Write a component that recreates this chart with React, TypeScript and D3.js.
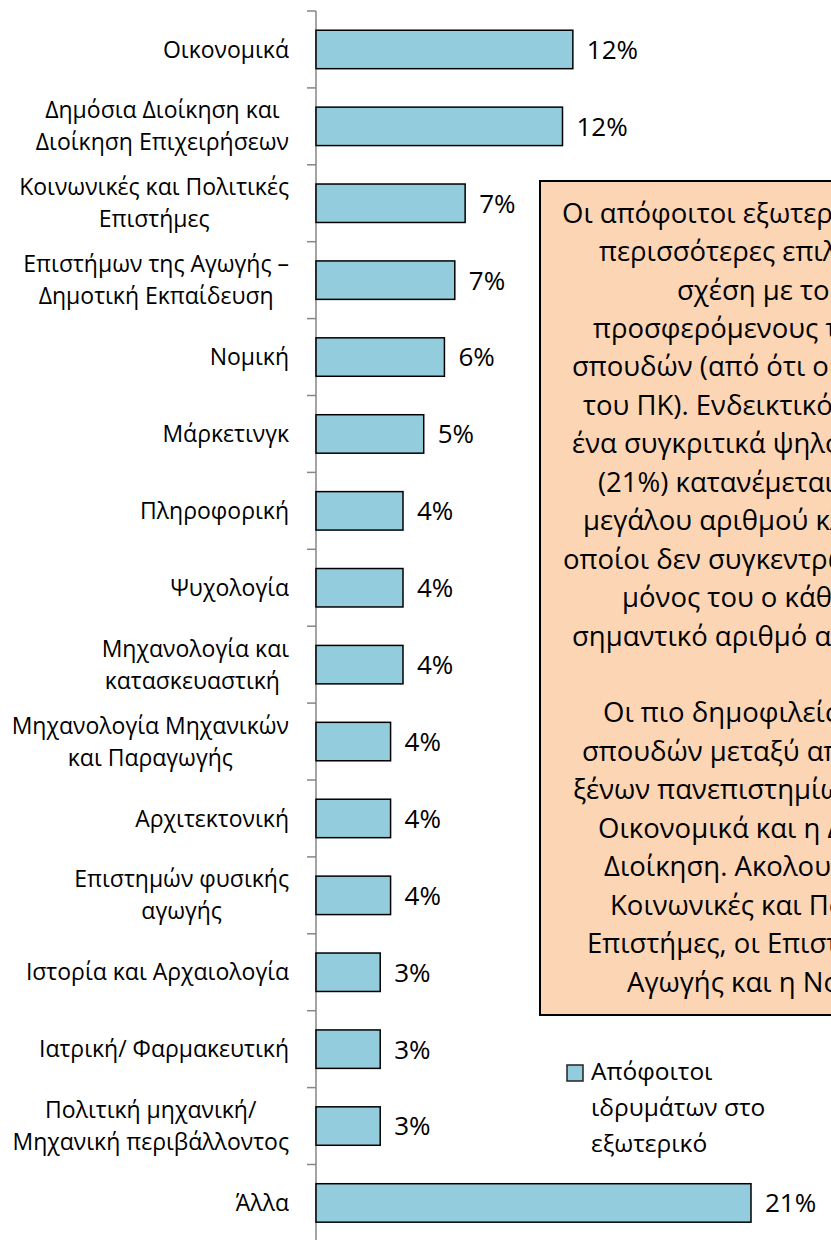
import React, { useEffect, useRef } from "react";
import * as d3 from "d3";

// Κατηγορίες (από πάνω προς τα κάτω) και ποσοστά αποφοίτων
const categories = [
  "Οικονομικά",
  "Δημόσια Διοίκηση και\nΔιοίκηση Επιχειρήσεων",
  "Κοινωνικές και Πολιτικές\nΕπιστήμες",
  "Επιστήμων της Αγωγής –\nΔημοτική Εκπαίδευση",
  "Νομική",
  "Μάρκετινγκ",
  "Πληροφορική",
  "Ψυχολογία",
  "Μηχανολογία και\nκατασκευαστική ",
  "Μηχανολογία Μηχανικών\nκαι Παραγωγής",
  "Αρχιτεκτονική",
  "Επιστημών φυσικής\nαγωγής",
  "Ιστορία και Αρχαιολογία",
  "Ιατρική/ Φαρμακευτική",
  "Πολιτική μηχανική/\nΜηχανική περιβάλλοντος",
  "Άλλα",
];
const shares = [
  0.124, 0.119, 0.072, 0.067, 0.062, 0.052, 0.042, 0.042, 0.042, 0.036, 0.036,
  0.036, 0.031, 0.031, 0.031, 0.21,
];

const legendLines = ["Απόφοιτοι", "ιδρυμάτων στο", "εξωτερικό"];

// Κείμενο σχολίου (κεντραρισμένο στο πλαίσιο, κόβεται στη δεξιά άκρη)
const noteLines = [
  "Οι απόφοιτοι εξωτερικού έχουν",
  "περισσότερες επιλογές σε",
  "σχέση με τους",
  "προσφερόμενους τομείς",
  "σπουδών (από ότι οι απόφοιτοι",
  "του ΠΚ). Ενδεικτικό είναι ότι",
  "ένα συγκριτικά ψηλό ποσοστό",
  "(21%) κατανέμεται σε ένα",
  "μεγάλου αριθμού κλάδων, οι",
  "οποίοι δεν συγκεντρώνουν ο",
  "μόνος του ο κάθε κλάδος",
  "σημαντικό αριθμό αποφοίτων.",
  "",
  "Οι πιο δημοφιλείς τομείς",
  "σπουδών μεταξύ αποφοίτων",
  "ξένων πανεπιστημίων είναι τα",
  "Οικονομικά και η Δημόσια",
  "Διοίκηση. Ακολουθούν οι",
  "Κοινωνικές και Πολιτικές",
  "Επιστήμες, οι Επιστήμες της",
  "Αγωγής και η Νομική.",
];
// αρχή κάθε γραμμής (λόγω κεντραρίσματος)
const noteIndent = [
  562, 599, 677, 593, 572, 583, 572, 598, 583, 563, 622, 572, 0, 603, 582, 573,
  598, 604, 610, 587, 627,
];

const W = 831;
const H = 1240;
const FONT = "'Open Sans', 'Noto Sans', sans-serif";
const BAR_FILL = "#93CDDD";

export default function App() {
  const ref = useRef<SVGSVGElement>(null);

  useEffect(() => {
    const svg = d3.select(ref.current);
    svg.selectAll("*").remove();

    const axisX = 316;
    const top = 11;
    const step = 76.9;

    const x = d3.scaleLinear([0, 0.21], [axisX, 751]);
    const y = d3
      .scaleBand<string>(categories, [top, top + step * categories.length])
      .paddingInner(0.5)
      .paddingOuter(0.25);

    svg.append("rect").attr("width", W).attr("height", H).attr("fill", "#fff");

    // Πλαίσιο σχολίου
    const note = svg.append("g");
    note
      .append("rect")
      .attr("x", 540)
      .attr("y", 181)
      .attr("width", 400)
      .attr("height", 834)
      .attr("fill", "#FCD5B5")
      .attr("stroke", "#000")
      .attr("stroke-width", 2);
    note
      .append("g")
      .attr("font-family", FONT)
      .attr("font-size", 27.5)
      .attr("fill", "#000")
      .selectAll("text")
      .data(noteLines)
      .join("text")
      .attr("x", (_, i) => noteIndent[i])
      .attr("y", (_, i) => 213 + i * 38.45)
      .attr("dy", "0.35em")
      .text((d) => d);

    // Άξονας
    const axis = svg.append("g").attr("stroke", "#868686").attr("stroke-width", 1.5);
    axis.append("line").attr("x1", axisX).attr("x2", axisX).attr("y1", top).attr("y2", H);
    axis
      .selectAll("line.tick")
      .data(d3.range(categories.length + 1))
      .join("line")
      .attr("class", "tick")
      .attr("x1", axisX - 9)
      .attr("x2", axisX)
      .attr("y1", (i) => top + i * y.step())
      .attr("y2", (i) => top + i * y.step());

    // Μπάρες
    svg
      .append("g")
      .selectAll("rect")
      .data(categories)
      .join("rect")
      .attr("x", x(0))
      .attr("y", (d) => y(d)!)
      .attr("width", (_, i) => x(shares[i]) - x(0))
      .attr("height", y.bandwidth())
      .attr("fill", BAR_FILL)
      .attr("stroke", "#000")
      .attr("stroke-width", 1.5);

    // Ετικέτες τιμών
    svg
      .append("g")
      .attr("font-family", FONT)
      .attr("font-size", 26)
      .attr("fill", "#000")
      .selectAll("text")
      .data(categories)
      .join("text")
      .attr("x", (_, i) => x(shares[i]) + 14)
      .attr("y", (d) => y(d)! + y.bandwidth() / 2)
      .attr("dy", "0.36em")
      .text((_, i) => `${Math.round(shares[i] * 100)}%`);

    // Ετικέτες κατηγοριών (πολλαπλές γραμμές κεντραρισμένες, μπλοκ δεξιά στοιχισμένο)
    const labelRight = 289;
    const lineH = 32;
    const labels = svg
      .append("g")
      .attr("font-family", FONT)
      .attr("font-size", 23)
      .attr("fill", "#000");
    categories.forEach((c) => {
      const lines = c.split("\n");
      const texts = labels
        .append("g")
        .selectAll("text")
        .data(lines)
        .join("text")
        .style("white-space", "pre")
        .text((d) => d);
      const widths = texts.nodes().map((n) => (n as SVGTextElement).getComputedTextLength());
      const maxW = d3.max(widths) ?? 0;
      const cy = y(c)! + y.bandwidth() / 2;
      texts
        .attr("text-anchor", "middle")
        .attr("x", labelRight - maxW / 2)
        .attr("y", (_, j) => cy + (j - (lines.length - 1) / 2) * lineH)
        .attr("dy", "0.35em");
    });

    // Υπόμνημα
    const legend = svg.append("g");
    legend
      .append("rect")
      .attr("x", 567)
      .attr("y", 1065)
      .attr("width", 16)
      .attr("height", 16)
      .attr("fill", BAR_FILL)
      .attr("stroke", "#222")
      .attr("stroke-width", 1.5);
    legend
      .append("g")
      .attr("font-family", FONT)
      .attr("font-size", 24.5)
      .attr("fill", "#000")
      .selectAll("text")
      .data(legendLines)
      .join("text")
      .attr("x", 591)
      .attr("y", (_, i) => 1080 + i * 36)
      .text((d) => d);
  }, []);

  return (
    <svg
      ref={ref}
      width={W}
      height={H}
      style={{ position: "absolute", left: 0, top: 0, display: "block" }}
    />
  );
}
